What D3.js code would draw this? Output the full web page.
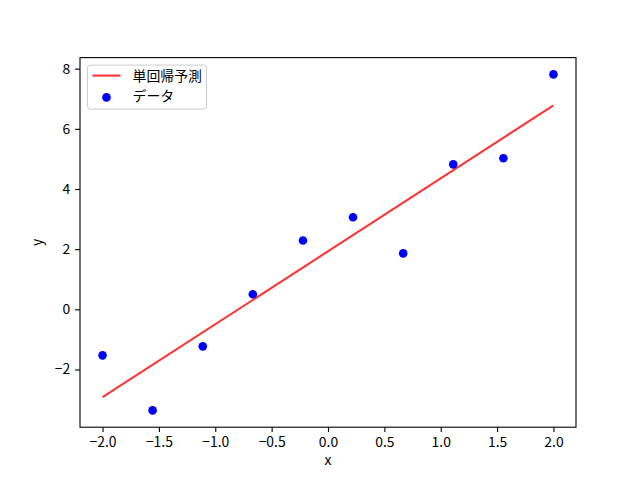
<!DOCTYPE html>
<html>
<head>
<meta charset="utf-8">
<script src="https://cdn.jsdelivr.net/npm/d3@7"></script>
<style>
  body { margin: 0; background: #fff; }
  text { font-family: "Noto Sans CJK JP", "DejaVu Sans", sans-serif; }
</style>
</head>
<body>
<svg id="graph"></svg>
<script>
// data
var xs = [-2, -1.556, -1.111, -0.667, -0.222, 0.222, 0.667, 1.111, 1.556, 2];
var ys = [-1.53, -3.36, -1.23, 0.50, 2.29, 3.06, 1.86, 4.82, 5.02, 7.81];
var predX = [-2, 2];
var predY = [-2.92, 6.78];
var xTicks = [-2.0, -1.5, -1.0, -0.5, 0.0, 0.5, 1.0, 1.5, 2.0];
var yTicks = [-2, 0, 2, 4, 6, 8];
var legendLabels = ["単回帰予測", "データ"];

var svg = d3.select("#graph")
    .attr("width", 640)
    .attr("height", 480);

var margin = {top: 57.6, right: 64, bottom: 52.8, left: 80},
    width = 640 - margin.left - margin.right,
    height = 480 - margin.top - margin.bottom;

var x = d3.scaleLinear().domain([-2.2, 2.2]).range([0, width]);
var y = d3.scaleLinear().domain([-3.918, 8.368]).range([height, 0]);

var g = svg.append("g")
    .attr("transform", "translate(" + margin.left + "," + margin.top + ")");

var fs = 13.9;

var xaxis = g.append("g")
    .attr("transform", "translate(0," + height + ")")
    .call(d3.axisBottom(x).tickValues(xTicks).tickSize(4.9).tickPadding(4.9)
      .tickFormat(function(d) { return d3.format(".1f")(d).replace("-", "\u2212"); }));

var yaxis = g.append("g")
    .call(d3.axisLeft(y).tickValues(yTicks).tickSize(4.9).tickPadding(4.9)
      .tickFormat(function(d) { return String(d).replace("-", "\u2212"); }));

[xaxis, yaxis].forEach(function(a) {
  a.select(".domain").remove();
  a.selectAll("line").attr("stroke", "#000").attr("stroke-width", 1.1);
  a.selectAll("text").attr("fill", "#000").style("font-size", fs + "px")
    .style("font-family", "'Noto Sans CJK JP', sans-serif");
});

// regression line
var line = d3.line()
    .x(function(d) { return x(d[0]); })
    .y(function(d) { return y(d[1]); });

g.append("path")
    .datum(d3.zip(predX, predY))
    .attr("d", line)
    .attr("fill", "none")
    .attr("stroke", "red")
    .attr("stroke-opacity", 0.8)
    .attr("stroke-width", 2.08);

// scatter
g.selectAll(".dot")
  .data(d3.zip(xs, ys))
  .enter().append("circle")
    .attr("class", "dot")
    .attr("cx", function(d) { return x(d[0]); })
    .attr("cy", function(d) { return y(d[1]); })
    .attr("r", 4.3)
    .attr("fill", "blue");

// frame
g.append("rect")
    .attr("width", width)
    .attr("height", height)
    .attr("fill", "none")
    .attr("stroke", "#000")
    .attr("stroke-width", 1.1);

// axis labels
g.append("text")
    .attr("x", width / 2)
    .attr("y", height + 38)
    .attr("text-anchor", "middle")
    .style("font-size", fs + "px")
    .text("x");

g.append("text")
    .attr("transform", "translate(-38," + (height / 2) + ") rotate(-90)")
    .attr("text-anchor", "middle")
    .style("font-size", fs + "px")
    .text("y");

// legend
var lg = g.append("g").attr("transform", "translate(7.5,7.5)");
lg.append("rect")
    .attr("width", 119)
    .attr("height", 44)
    .attr("rx", 3)
    .attr("fill", "#fff")
    .attr("fill-opacity", 0.8)
    .attr("stroke", "#ccc")
    .attr("stroke-width", 1);

lg.append("line")
    .attr("x1", 5).attr("x2", 33)
    .attr("y1", 10.5).attr("y2", 10.5)
    .attr("stroke", "red")
    .attr("stroke-opacity", 0.8)
    .attr("stroke-width", 2.08);

lg.append("circle")
    .attr("cx", 19).attr("cy", 32.3)
    .attr("r", 4.3)
    .attr("fill", "blue");

lg.selectAll(".ltext")
  .data(legendLabels)
  .enter().append("text")
    .attr("class", "ltext")
    .attr("x", 45)
    .attr("y", function(d, i) { return 15.5 + i * 20.5; })
    .style("font-size", fs + "px")
    .text(function(d) { return d; });
</script>
</body>
</html>
